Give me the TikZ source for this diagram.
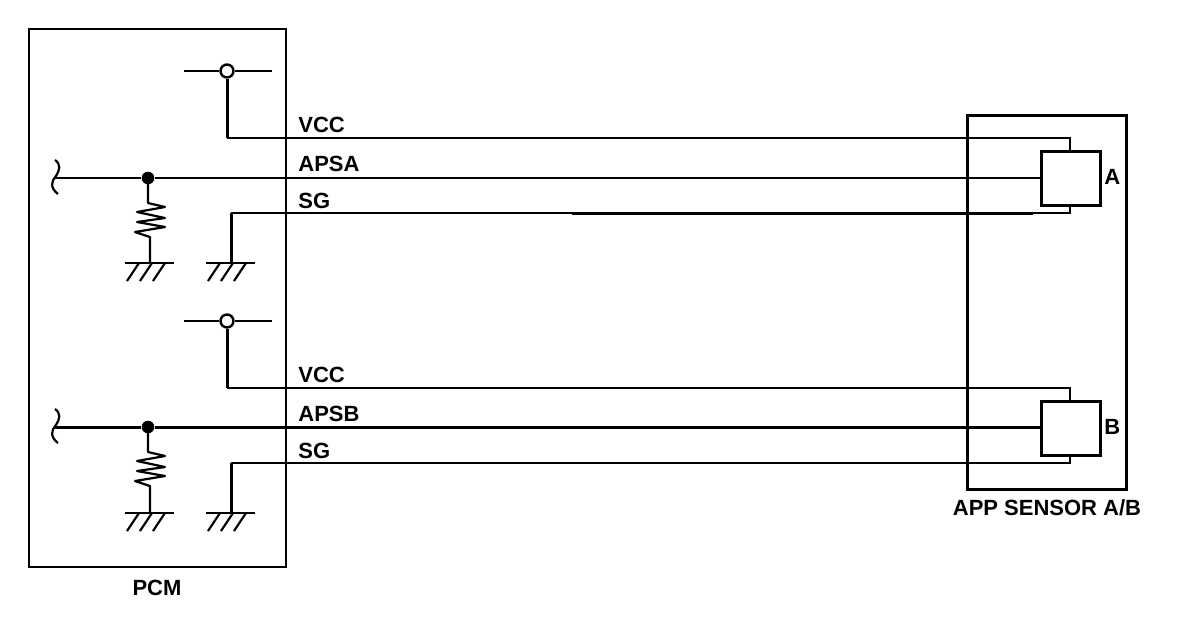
\documentclass[tikz,border=0pt]{standalone}
\usepackage{fontspec}
\setmainfont{Liberation Sans}
\tikzset{
  wire/.style={line width=1.1pt},
  thickwire/.style={line width=1.5pt},
  boxline/.style={draw,line width=1.5pt,inner sep=0pt,outer sep=0pt},
  lbl/.style={inner sep=0pt,font=\fontsize{11pt}{12pt}\selectfont\bfseries},
  wirelbl/.style={lbl,anchor=base west},
  opendot/.style={circle,draw,fill=white,line width=1.2pt,minimum size=6.5pt,inner sep=0pt},
  soliddot/.style={circle,fill=black,minimum size=6.3pt,inner sep=0pt},
  gnd/.pic={
    \draw[wire] (-24,0) -- (25,0);
    \draw[wire] (-10,0) -- (-22,18);
    \draw[wire] (3,0) -- (-9,18);
    \draw[wire] (16,0) -- (4,18);
  },
  zigzag/.pic={
    \draw[wire,line join=round] (0,0) -- (0,25) -- (17,29) -- (-11,34) -- (17,40) -- (-11,44) -- (17,49) -- (-13,54) -- (2,59) -- (2,85);
  },
  squiggle/.pic={
    \draw[wire] (0,-18) .. controls (6,-14) and (5,-8) .. (1,-2) .. controls (-4,3) and (-5,10) .. (3,16);
  }
}
\begin{document}
\begin{tikzpicture}[x=0.5pt,y=-0.5pt]
  \useasboundingbox (0,0) rectangle (1184,618);

  % outer boxes
  \node[boxline,line width=1.2pt,minimum width=128.5pt,minimum height=269pt] (pcm) at (157.5,298) {};
  \node[boxline,minimum width=79.5pt,minimum height=187pt] (sensor) at (1047,302) {};
  \node[lbl] (pcmlbl) at (157,588) {PCM};
  \node[lbl] (sensorlbl) at (1047,508) {APP SENSOR A/B};

  % channel A
  \node[boxline,fill=white,minimum width=29.5pt,minimum height=27pt] (sensA) at (1070.5,178) {};
  \node[lbl,anchor=west] (sensAlbl) at (1104,177) {A};
  \coordinate (stubAl) at (184,71);
  \coordinate (stubAr) at (272,71);
  \node[opendot] (pullA) at (227,71) {};
  \coordinate (endA) at (55,178);
  \node[soliddot] (jctA) at (148,178) {};
  \coordinate (gndA) at (231,263);
  \coordinate (vccA) at (1070,138);
  \coordinate (sgA) at (1070,213);
  \coordinate (sgAl) at (572,213.5);
  \coordinate (sgAr) at (1033,213.5);
  \draw[wire] (stubAl) -- (pullA) -- (stubAr);
  \draw[thickwire] (pullA) -- (pullA |- vccA);
  \draw[wire] (pullA |- vccA) -- (vccA) -- (sensA.north -| vccA);
  \draw[wire] (endA) -- (jctA) -- (sensA.west);
  \draw[wire] (sensA.south -| sgA) -- (sgA) -- (gndA |- sgA);
  \draw[thickwire] (sgAl) -- (sgAr);
  \draw[thickwire] (gndA |- sgA) -- (gndA);
  \node[wirelbl] (vccAlbl) at (298,132) {VCC};
  \node[wirelbl] (apsalbl) at (298,171.5) {APSA};
  \node[wirelbl] (sgAlbl) at (298,208) {SG};
  \pic at (endA) {squiggle};
  \pic at (jctA) {zigzag};
  \pic at (149,263) {gnd};
  \pic at (230,263) {gnd};

  % channel B
  \node[boxline,fill=white,minimum width=29.5pt,minimum height=27pt] (sensB) at (1070.5,428) {};
  \node[lbl,anchor=west] (sensBlbl) at (1104,427) {B};
  \coordinate (stubBl) at (184,321);
  \coordinate (stubBr) at (272,321);
  \node[opendot] (pullB) at (227,321) {};
  \coordinate (endB) at (55,427);
  \node[soliddot] (jctB) at (148,427) {};
  \coordinate (gndB) at (231,513);
  \coordinate (vccB) at (1070,388);
  \coordinate (sgB) at (1070,463);
  \draw[wire] (stubBl) -- (pullB) -- (stubBr);
  \draw[thickwire] (pullB) -- (pullB |- vccB);
  \draw[wire] (pullB |- vccB) -- (vccB) -- (sensB.north -| vccB);
  \draw[thickwire] (endB) -- (jctB) -- (sensB.west |- jctB);
  \draw[wire] (sensB.south -| sgB) -- (sgB) -- (gndB |- sgB);
  \draw[thickwire] (gndB |- sgB) -- (gndB);
  \node[wirelbl] (vccBlbl) at (298,382) {VCC};
  \node[wirelbl] (apsblbl) at (298,421.5) {APSB};
  \node[wirelbl] (sgBlbl) at (298,458) {SG};
  \pic at (endB) {squiggle};
  \pic at (jctB) {zigzag};
  \pic at (149,513) {gnd};
  \pic at (230,513) {gnd};
\end{tikzpicture}
\end{document}
